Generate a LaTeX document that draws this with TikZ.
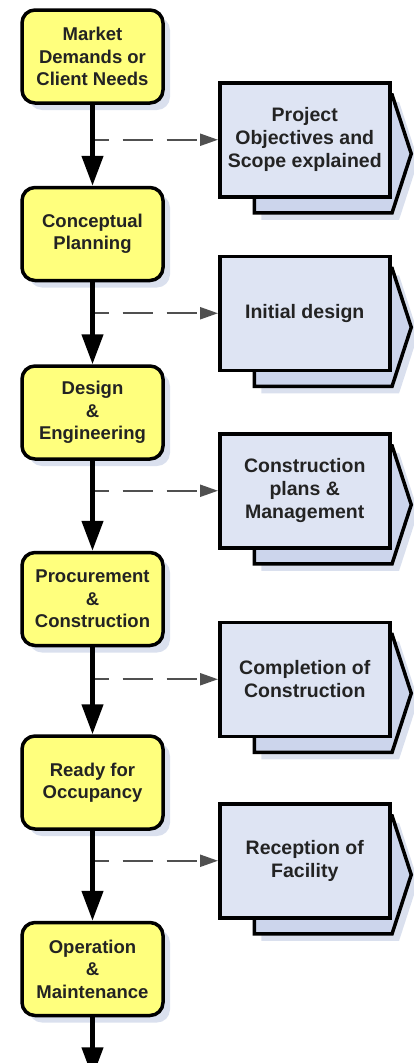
\documentclass[tikz,border=0pt]{standalone}
\usepackage{fontspec}
\setmainfont{Liberation Sans}
\usepackage{tikz}
\usetikzlibrary{positioning}
\usetikzlibrary{calc}
\usetikzlibrary{arrows.meta}
\usetikzlibrary{shapes.symbols}
\usetikzlibrary{shadows}
\definecolor{stepyellow}{RGB}{255,255,125}
\definecolor{outblue}{RGB}{222,228,243}
\definecolor{backblue}{RGB}{204,213,236}
\definecolor{shadowblue}{RGB}{218,224,238}
\definecolor{dashgray}{RGB}{80,80,80}
\definecolor{textdark}{RGB}{35,35,35}

\begin{document}
\begin{tikzpicture}[x=1pt, y=1pt, every node/.style={align=center, font=\fontsize{18.5}{22.5}\selectfont\bfseries, text=textdark},
    phasebox/.style={draw=black, line width=3.5pt, fill=stepyellow, rounded corners=13pt, minimum width=141pt, minimum height=93pt, inner sep=2pt,
        drop shadow={shadow xshift=7pt, shadow yshift=-7pt, fill=shadowblue, opacity=1}},
    outbox/.style={draw=black, line width=3.5pt, fill=outblue, minimum width=170pt, minimum height=114pt, inner sep=2pt,
        font=\fontsize{19.5}{23}\selectfont\bfseries},
    backbox/.style={shape=signal, signal to=east, signal pointer angle=144, draw=black, line width=3.5pt, fill=backblue,
        minimum width=157pt, minimum height=118pt, inner sep=0pt,
        drop shadow={shadow xshift=7pt, shadow yshift=-7pt, fill=shadowblue, opacity=1}},
    flow/.style={line width=4.5pt, -{Triangle[length=30pt, width=21pt]}},
    feed/.style={draw=dashgray, line width=2.2pt, dash pattern=on 30pt off 14pt, dash phase=14pt, -{Triangle[length=18pt, width=12pt]}}]

        \useasboundingbox (0,0) rectangle (414,-1063);

        % Phases
        \node[phasebox] (market) at (92.5,-56.5) {Market\\Demands or\\Client Needs};
        \node[phasebox, below=81pt of market] (concept) {Conceptual\\Planning};
        \node[phasebox, below=82pt of concept] (design) {Design\\\&\\Engineering};
        \node[phasebox, below=90pt of design] (procure) {Procurement\\\&\\Construction};
        \node[phasebox, below=87pt of procure] (ready) {Ready for\\Occupancy};
        \node[phasebox, below=90pt of ready] (operate) {Operation\\\&\\Maintenance};
        \coordinate[below=60pt of operate] (finish);

        % Outputs
        \coordinate[below=35pt of market] (m1);
        \node[backbox, right=160pt of m1, yshift=-14pt] (b1) {};
        \node[outbox, right=125.5pt of m1] (o1) {Project\\Objectives and\\Scope explained};
        \draw[feed] (m1) -- (o1);

        \coordinate[below=31pt of concept] (m2);
        \node[backbox, right=160pt of m2, yshift=-14pt] (b2) {};
        \node[outbox, right=125.5pt of m2] (o2) {Initial design};
        \draw[feed] (m2) -- (o2);

        \coordinate[below=30pt of design] (m3);
        \node[backbox, right=160pt of m3, yshift=-14pt] (b3) {};
        \node[outbox, right=125.5pt of m3] (o3) {Construction\\plans \&\\Management};
        \draw[feed] (m3) -- (o3);

        \coordinate[below=32pt of procure] (m4);
        \node[backbox, right=160pt of m4, yshift=-14pt] (b4) {};
        \node[outbox, right=125.5pt of m4] (o4) {Completion of\\Construction};
        \draw[feed] (m4) -- (o4);

        \coordinate[below=30pt of ready] (m5);
        \node[backbox, right=160pt of m5, yshift=-14pt] (b5) {};
        \node[outbox, right=125.5pt of m5] (o5) {Reception of\\Facility};
        \draw[feed] (m5) -- (o5);

        % Main flow
        \draw[flow] (market) -- (concept);
        \draw[flow] (concept) -- (design);
        \draw[flow] (design) -- (procure);
        \draw[flow] (procure) -- (ready);
        \draw[flow] (ready) -- (operate);
        \draw[flow] (operate) -- (finish);

    \end{tikzpicture}
\end{document}
